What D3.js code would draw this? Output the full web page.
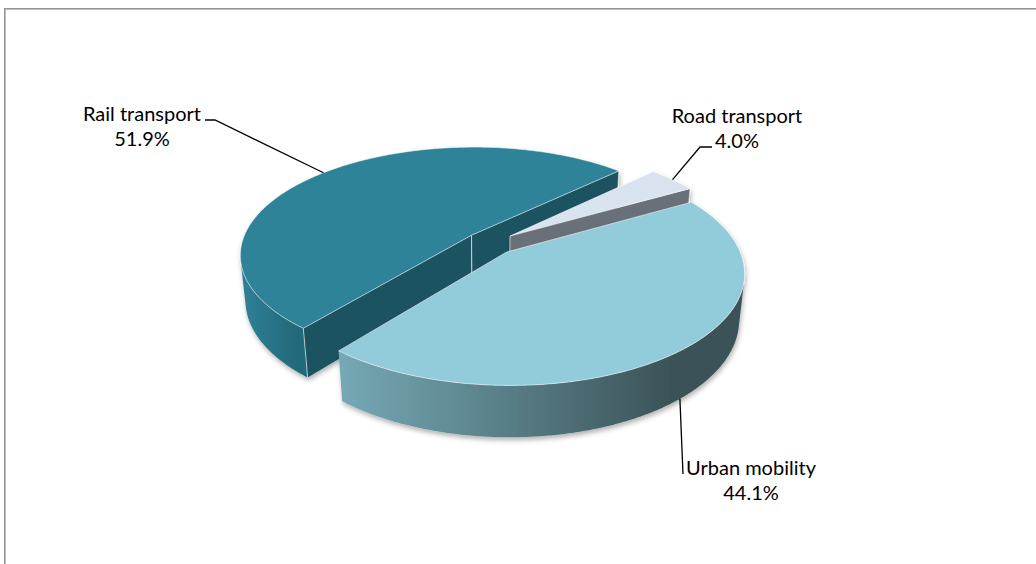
<!DOCTYPE html>
<html lang="en">
<head>
<meta charset="utf-8">
<title>Transport shares</title>
<script src="https://d3js.org/d3.v7.min.js"></script>
<style>
  body { margin: 0; background: #fff; }
  .label { font-family: Lato, "Open Sans", sans-serif; font-size: 20px; fill: #000; }
  .leader { stroke: #000; stroke-width: 1.3px; fill: none; }
</style>
</head>
<body>
<svg id="chart" width="1036" height="564"></svg>
<script>
const categories = ["Rail transport", "Road transport", "Urban mobility"];
const shares = [51.9, 4.0, 44.1];
const shareLabels = ["51.9%", "4.0%", "44.1%"];

const topColors = ["#2e8399", "#d9e3ef", "#92cbd9"];
const cutColors = ["#1e5261", "#6b7079", "#3d5559"];
const wallColors = [["#2f8197", "#24697c"], ["#6b7079", "#6b7079"], ["#76a9b6", "#3b5358"]];

// label block: text centre x, first baseline y; leader elbows (text side first)
const labelPos = [[142, 121], [737, 123], [751, 475]];
const leaderElbows = [[[205, 120], [215, 120]], [[712, 147], [700, 147]], [[683, 474]]];

const svg = d3.select("#chart");

// border of the chart area
svg.append("rect")
    .attr("x", 4.8).attr("y", 8.8)
    .attr("width", 1100).attr("height", 600)
    .attr("fill", "none")
    .attr("stroke", "#949494")
    .attr("stroke-width", 1.6);

// simple perspective camera looking down at the pie
const cx = 490, cy = 243, F = 1155, D = 5.02;
const tilt = 27.5 * Math.PI / 180;
const sinT = Math.sin(tilt), cosT = Math.cos(tilt);
const thick = 0.225, explode = 0.11;
const startAngle = 219 * Math.PI / 180;
const cam = { x: 0, y: D * sinT, z: D * cosT };

function project(x, y, z) {
    const depth = D - y * sinT - z * cosT;
    return [cx + F * x / depth, cy - F * (y * cosT - z * sinT) / depth];
}

const pie = d3.pie().sort(null)
    .startAngle(startAngle)
    .endAngle(startAngle + 2 * Math.PI);

const slices = pie(shares).map((d, i) => {
    const mid = (d.startAngle + d.endAngle) / 2;
    return { ...d, i, mid, ox: explode * Math.sin(mid), oz: -explode * Math.cos(mid) };
});

const rim = (s, a, y) => project(s.ox + Math.sin(a), y, s.oz - Math.cos(a));
const apex = (s, y) => project(s.ox, y, s.oz);

function sweep(a0, a1) {
    const n = Math.max(2, Math.ceil((a1 - a0) / (Math.PI / 360)));
    return d3.range(n + 1).map(k => a0 + (a1 - a0) * k / n);
}

const line = d3.line();
const closed = pts => line(pts) + "Z";

const defs = svg.append("defs");
const shadow = defs.append("filter").attr("id", "shadow")
    .attr("x", "-10%").attr("y", "-10%").attr("width", "120%").attr("height", "130%");
shadow.append("feDropShadow")
    .attr("dx", 1).attr("dy", 3).attr("stdDeviation", 2.5)
    .attr("flood-color", "#000").attr("flood-opacity", 0.3);

const gPie = svg.append("g");

slices.forEach(s => {
    const g = gPie.append("g").attr("filter", "url(#shadow)");
    const a0 = s.startAngle, a1 = s.endAngle;

    // outer wall, only the part facing the camera
    const vis = sweep(a0, a1).filter(a => {
        const nx = Math.sin(a), nz = -Math.cos(a);
        return (cam.x - s.ox - nx) * nx + (cam.z - s.oz - nz) * nz > 0;
    });
    if (vis.length > 1) {
        const b = sweep(vis[0], vis[vis.length - 1]);
        const pts = b.map(a => rim(s, a, 0)).concat(b.slice().reverse().map(a => rim(s, a, -thick)));
        const xs = d3.extent(pts, p => p[0]);
        const grad = defs.append("linearGradient")
            .attr("id", "wall" + s.i)
            .attr("gradientUnits", "userSpaceOnUse")
            .attr("x1", xs[0]).attr("x2", xs[1]).attr("y1", 0).attr("y2", 0);
        grad.append("stop").attr("offset", 0).attr("stop-color", wallColors[s.i][0]);
        grad.append("stop").attr("offset", 0.82).attr("stop-color", wallColors[s.i][1]);
        grad.append("stop").attr("offset", 1).attr("stop-color", wallColors[s.i][1]);
        g.append("path").attr("d", closed(pts)).attr("fill", `url(#wall${s.i})`);
    }

    // radial cut faces that face the camera, far one first
    const cuts = [
        { a: a0, nx: -Math.cos(a0), nz: -Math.sin(a0) },
        { a: a1, nx: Math.cos(a1), nz: Math.sin(a1) }
    ].filter(c => (cam.x - s.ox) * c.nx + (cam.z - s.oz) * c.nz > 0)
     .sort((p, q) => Math.cos(p.a) - Math.cos(q.a));

    cuts.forEach(c => {
        const pts = [apex(s, 0), rim(s, c.a, 0), rim(s, c.a, -thick), apex(s, -thick)];
        g.append("path").attr("d", closed(pts)).attr("fill", cutColors[s.i]);
        [[rim(s, c.a, 0), rim(s, c.a, -thick)], [apex(s, 0), apex(s, -thick)]].forEach(e => {
            g.append("path").attr("d", line(e))
                .attr("stroke", "rgba(255,255,255,0.6)").attr("stroke-width", 1);
        });
    });

    // top face
    const top = [apex(s, 0)].concat(sweep(a0, a1).map(a => rim(s, a, 0)));
    g.append("path").attr("d", closed(top))
        .attr("fill", topColors[s.i])
        .attr("stroke", "rgba(255,255,255,0.55)")
        .attr("stroke-width", 1)
        .attr("stroke-linejoin", "round");
});

// leader lines and labels
slices.forEach(s => {
    const onPie = rim(s, s.mid, s.i === 2 ? -thick : 0);
    const pts = leaderElbows[s.i].concat([onPie]);
    svg.append("path").attr("class", "leader").attr("d", line(pts));

    const [lx, ly] = labelPos[s.i];
    const t = svg.append("text").attr("class", "label").attr("text-anchor", "middle");
    t.append("tspan").attr("x", lx).attr("y", ly).text(categories[s.i]);
    t.append("tspan").attr("x", lx).attr("y", ly + 25).text(shareLabels[s.i]);
});
</script>
</body>
</html>
